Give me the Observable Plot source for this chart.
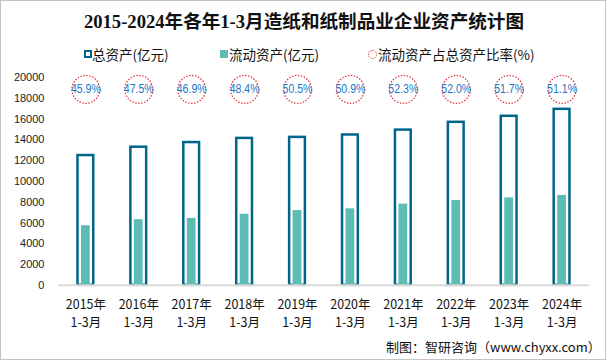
<!DOCTYPE html>
<html><head><meta charset="utf-8">
<script src="https://cdn.jsdelivr.net/npm/d3@7"></script>
<script src="https://cdn.jsdelivr.net/npm/@observablehq/plot@0.6"></script>
<style>
body{margin:0;background:#fff;}
#chart{position:relative;width:604px;height:358px;overflow:hidden;border:1px solid #c4c4c4;font-family:"Noto Sans CJK SC",sans-serif;background:#fff;}
#title{position:absolute;left:0;top:8px;width:606px;text-align:center;font-family:"Liberation Serif","Noto Sans CJK SC",serif;font-weight:bold;font-size:18.6px;color:#111;line-height:26px;}
.leg{position:absolute;top:44px;font-size:13.5px;color:#111;line-height:18px;white-space:nowrap;}
.sw{position:absolute;}
#plot{position:absolute;left:-1px;top:-1px;}
#cap{position:absolute;left:385px;top:336px;font-size:13px;color:#111;white-space:nowrap;}
</style></head><body>
<div id="chart">
  <div id="plot"></div>
  <div id="title"></div>
  <div class="sw" style="left:83px;top:49px;width:4px;height:4px;border:2px solid #00658A;"></div>
  <div class="leg" id="l1" style="left:91px;"></div>
  <div class="sw" style="left:219px;top:49px;width:8px;height:8px;background:#5DBCB4;"></div>
  <div class="leg" id="l2" style="left:228px;"></div>
  <div class="sw" style="left:367px;top:49px;width:7px;height:7px;border:1px dotted #E0303A;border-radius:50%;"></div>
  <div class="leg" id="l3" style="left:377px;"></div>
  <div id="cap"></div>
</div>
<script>
const titleText = "2015-2024年各年1-3月造纸和纸制品业企业资产统计图";
const legendLabels = ["总资产(亿元)", "流动资产(亿元)", "流动资产占总资产比率(%)"];
const captionText = "制图：智研咨询（www.chyxx.com）";
const years = ["2015年","2016年","2017年","2018年","2019年","2020年","2021年","2022年","2023年","2024年"];
const period = "1-3月";
const totalAssets = [12500, 13300, 13750, 14150, 14250, 14480, 14950, 15700, 16280, 16950];
const currentAssets = [5740, 6320, 6450, 6850, 7200, 7370, 7820, 8160, 8420, 8660];
const ratio = [45.9, 47.5, 46.9, 48.4, 50.5, 50.9, 52.3, 52.0, 51.7, 51.1];
const yTicks = [0, 2000, 4000, 6000, 8000, 10000, 12000, 14000, 16000, 18000, 20000];
const ratioRowY = 18870;

document.getElementById("title").textContent = titleText;
document.getElementById("l1").textContent = legendLabels[0];
document.getElementById("l2").textContent = legendLabels[1];
document.getElementById("l3").textContent = legendLabels[2];
document.getElementById("cap").textContent = captionText;

const data = years.map((y, i) => ({year: y, total: totalAssets[i], current: currentAssets[i], ratio: ratio[i]}));

const svg = Plot.plot({
  width: 606, height: 360,
  marginLeft: 58, marginRight: 16, marginTop: 77.3, marginBottom: 74.7,
  x: {domain: years, padding: 0, axis: null, label: null},
  y: {domain: [0, 20000], axis: null, label: null},
  style: {background: "transparent", fontFamily: "Noto Sans CJK SC, sans-serif"},
  marks: [
    Plot.axisY({ticks: yTicks, tickSize: 0, tickPadding: 14, label: null, tickFormat: d3.format("d"), fontSize: 11, fill: "#222", fontFamily: "Liberation Sans, Arial, sans-serif"}),
    Plot.barY(data, {x: "year", y: "total", fill: "#fff", stroke: "#00658A", strokeWidth: 2.5, insetLeft: 18.6, insetRight: 18.6}),
    Plot.barY(data, {x: "year", y: "current", fill: "#5DBCB4", insetLeft: 22.1, insetRight: 22.1}),
    Plot.ruleY([0], {stroke: "#d9d9d9", strokeWidth: 2}),
    Plot.axisX({tickSize: 0, tickPadding: 10, label: null, tickFormat: d => d + "\n" + period, fontSize: 12.5, lineHeight: 1.5, fill: "#111"}),
    Plot.dot(data, {x: "year", y: () => ratioRowY, r: 14, stroke: "#E0303A", strokeWidth: 1.3, strokeDasharray: "1.4,1.6", fill: "none"}),
    Plot.text(data, {x: "year", y: () => ratioRowY, text: d => d.ratio.toFixed(1) + "%", fill: "#1B76C6", fontSize: 12.5, fontFamily: "Liberation Sans, Arial, sans-serif"})
  ]
});
document.getElementById("plot").appendChild(svg);
d3.select(svg).selectAll("text").filter(function(){ return /%$/.test(this.textContent); }).each(function(){
  const w = this.getComputedTextLength();
  this.setAttribute("textLength", Math.min(w, 30));
  this.setAttribute("lengthAdjust", "spacingAndGlyphs");
});
</script>
</body></html>
